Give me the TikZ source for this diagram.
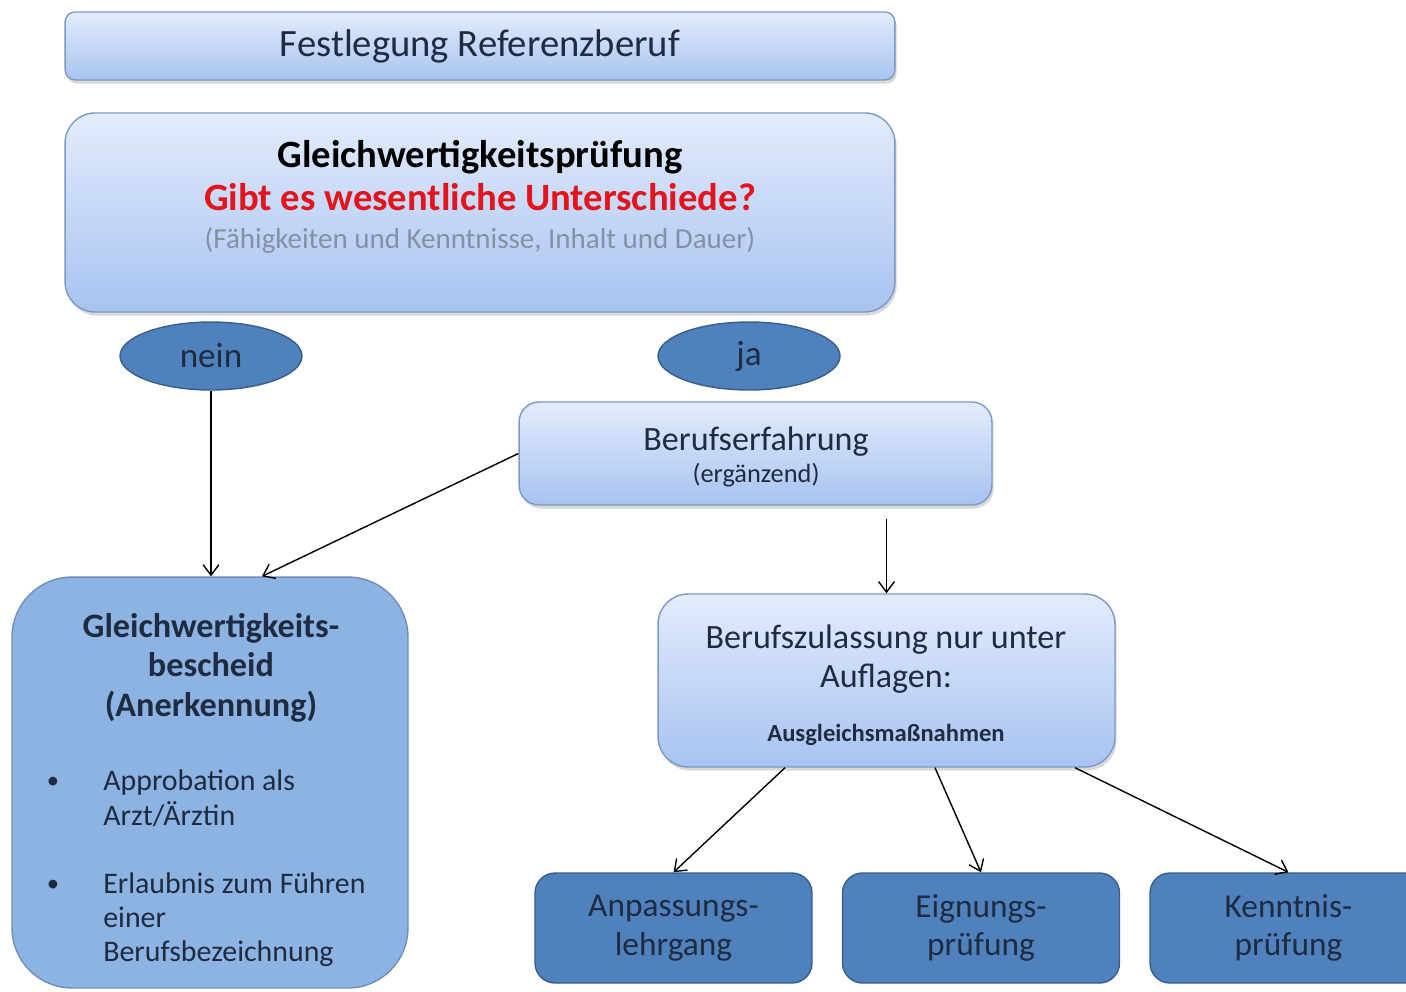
\documentclass[tikz,border=0pt]{standalone}
\usepackage{fontspec}
\setmainfont{Carlito}
\usetikzlibrary{shapes.geometric,arrows.meta,shadows}
\definecolor{lightTop}{HTML}{E3ECFC}
\definecolor{lightBot}{HTML}{A7C3F1}
\definecolor{lightEdge}{HTML}{7E98C4}
\definecolor{darkFill}{HTML}{4F81BD}
\definecolor{darkEdge}{HTML}{385D8A}
\definecolor{midFill}{HTML}{8DB3E2}
\definecolor{midEdge}{HTML}{6F8FBB}
\definecolor{txtDark}{HTML}{1F2B40}
\definecolor{txtRed}{HTML}{E3141C}
\definecolor{txtGray}{HTML}{8391A3}
\begin{document}
\begin{tikzpicture}[x=0.02cm, y=-0.02cm,
    lightbox/.style={draw=lightEdge, line width=0.8pt, top color=lightTop, bottom color=lightBot,
        drop shadow={opacity=0.3, shadow xshift=1pt, shadow yshift=-2pt}},
    darkbox/.style={draw=darkEdge, line width=0.8pt, fill=darkFill, text=txtDark, align=center,
        font=\fontsize{19}{22}\selectfont, rounded corners=0.4cm, minimum width=5.54cm, minimum height=2.2cm},
    answer/.style={ellipse, draw=darkEdge, line width=0.8pt, fill=darkFill, text=txtDark,
        font=\fontsize{20}{22}\selectfont, minimum width=3.64cm, minimum height=1.36cm},
    bullettxt/.style={anchor=base west, inner sep=0pt, font=\fontsize{17}{19}\selectfont, text=txtDark},
    arr/.style={-{Straight Barb[length=6pt,width=9pt]}, line width=0.8pt, black}]
    \clip (0,0) rectangle (1406,991);
    \useasboundingbox (0,0) rectangle (1406,991);
    % oben
    \node[lightbox, rounded corners=0.2cm, minimum width=16.6cm, minimum height=1.36cm, text=txtDark,
        font=\fontsize{22}{25}\selectfont] (referenz) at (480,46) {Festlegung Referenzberuf};
    \node[lightbox, rounded corners=0.6cm, minimum width=16.6cm, minimum height=3.98cm] (pruefung) at (480,212.5) {};
    \node[anchor=base, font=\bfseries\fontsize{22}{25}\selectfont, text=black] (pruef-titel) at (480,167) {Gleichwertigkeitsprüfung};
    \node[anchor=base, font=\bfseries\fontsize{22}{25}\selectfont, text=txtRed] (pruef-frage) at (480,210) {Gibt es wesentliche Unterschiede?};
    \node[anchor=base, font=\fontsize{16.5}{19}\selectfont, text=txtGray] (pruef-hinweis) at (480,248) {(Fähigkeiten und Kenntnisse, Inhalt und Dauer)};
    \node[answer] (nein) at (211,356) {nein};
    \node[answer] (ja) at (749,356) {ja};
    % ja-Zweig
    \node[lightbox, rounded corners=0.4cm, minimum width=9.46cm, minimum height=2.06cm] (erfahrung) at (755.5,453.5) {};
    \node[anchor=base, font=\fontsize{19.4}{22}\selectfont, text=txtDark] (erf-titel) at (756,450) {Berufserfahrung};
    \node[anchor=base, font=\fontsize{15}{17}\selectfont, text=txtDark] (erf-zusatz) at (756,482) {(ergänzend)};
    \node[lightbox, rounded corners=0.6cm, minimum width=9.14cm, minimum height=3.46cm] (zulassung) at (886.5,680.5) {};
    \node[anchor=base, font=\fontsize{19.4}{22}\selectfont, text=txtDark] (zul-z1) at (886,648) {Berufszulassung nur unter};
    \node[anchor=base, font=\fontsize{19.4}{22}\selectfont, text=txtDark] (zul-z2) at (886,687) {Auflagen:};
    \node[anchor=base, font=\bfseries\fontsize{14}{16}\selectfont, text=txtDark] (zul-z3) at (886,741) {Ausgleichsmaßnahmen};
    \node[darkbox] (anpassung) at (673.5,928) {Anpassungs-\\lehrgang};
    \node[darkbox] (eignung) at (981,928) {Eignungs-\\prüfung};
    \node[darkbox] (kenntnis) at (1288.5,928) {Kenntnis-\\prüfung};
    % nein-Zweig
    \node[draw=midEdge, line width=0.8pt, fill=midFill, rounded corners=1.2cm, minimum width=7.92cm,
        minimum height=8.22cm] (bescheid) at (210,782.5) {};
    \node[anchor=base, font=\bfseries\fontsize{19.5}{22}\selectfont, text=txtDark] (besch-z1) at (211,637) {Gleichwertigkeits-};
    \node[anchor=base, font=\bfseries\fontsize{19.5}{22}\selectfont, text=txtDark] (besch-z2) at (211,676) {bescheid};
    \node[anchor=base, font=\bfseries\fontsize{19.5}{22}\selectfont, text=txtDark] (besch-z3) at (211,716) {(Anerkennung)};
    \node[anchor=base, font=\fontsize{14}{16}\selectfont, text=txtDark] (punkt-a) at (53,788) {•};
    \node[bullettxt] (appro-1) at (103,790) {Approbation als};
    \node[bullettxt] (appro-2) at (103,825) {Arzt/Ärztin};
    \node[anchor=base, font=\fontsize{14}{16}\selectfont, text=txtDark] (punkt-b) at (53,891) {•};
    \node[bullettxt] (erlaub-1) at (103,893) {Erlaubnis zum Führen};
    \node[bullettxt] (erlaub-2) at (103,927) {einer};
    \node[bullettxt] (erlaub-3) at (103,961) {Berufsbezeichnung};
    % Pfeile
    \draw[arr] (nein.south) -- (nein.south |- bescheid.north);
    \draw[arr] (erfahrung.west) -- ([xshift=1.04cm]bescheid.north);
    \draw[arr, shorten <=0.26cm] (erfahrung.south -| zulassung.north) -- (zulassung.north);
    \draw[arr] ([xshift=-2.03cm]zulassung.south) -- (anpassung.north);
    \draw[arr] ([xshift=0.97cm]zulassung.south) -- (eignung.north);
    \draw[arr] ([xshift=3.77cm]zulassung.south) -- (kenntnis.north);
\end{tikzpicture}
\end{document}
